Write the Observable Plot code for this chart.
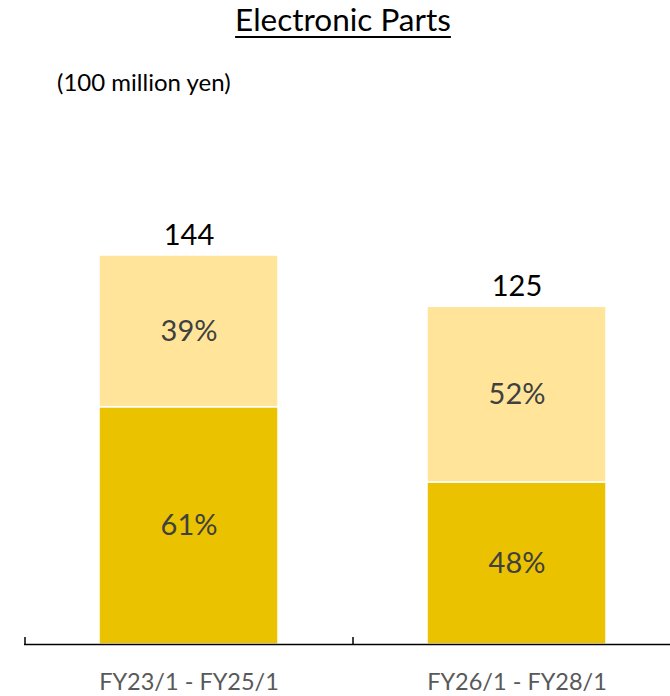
<!DOCTYPE html>
<html>
<head>
<meta charset="utf-8">
<script src="https://cdn.jsdelivr.net/npm/d3@7"></script>
<script src="https://cdn.jsdelivr.net/npm/@observablehq/plot@0.6"></script>
<style>
  body { margin: 0; background: #fff; font-family: Lato, "Open Sans", sans-serif; }
  #wrap { width: 670px; height: 696px; position: relative; overflow: hidden; }
  #title { position: absolute; left: 8px; width: 670px; top: 0px; text-align: center; font-size: 31.5px; text-decoration: underline; text-underline-offset: 5px; text-decoration-thickness: 1.5px; color: #000; }
  #subtitle { position: absolute; left: 57px; top: 67px; font-size: 24px; color: #000; }
  #chart { position: absolute; left: 0; top: 100px; }
</style>
</head>
<body>
<div id="wrap">
  <div id="title">Electronic Parts</div>
  <div id="subtitle">(100 million yen)</div>
  <div id="chart"></div>
</div>
<script>
const periods = ["FY23/1 - FY25/1", "FY26/1 - FY28/1"];
const totals = [144, 125];
const lowerPct = [61, 48];
const upperPct = [39, 52];
const segments = ["lower", "upper"];
const segmentColors = ["#EAC200", "#FFE499"];

const rows = [];
periods.forEach((p, i) => {
  rows.push({period: p, segment: "lower", value: totals[i] * lowerPct[i] / 100, pct: lowerPct[i]});
  rows.push({period: p, segment: "upper", value: totals[i] * upperPct[i] / 100, pct: upperPct[i]});
});
const totalRows = periods.map((p, i) => ({period: p, total: totals[i]}));

const W = 670, H = 596, mL = 24, mR = -10, mT = 155, mB = 52;
const step = (W - mL - mR) / periods.length;
const pxPerUnit = (H - mT - mB) / 144;

const chart = Plot.plot({
  width: W,
  height: H,
  marginLeft: mL,
  marginRight: mR,
  marginTop: mT,
  marginBottom: mB,
  style: {fontFamily: "Lato, 'Open Sans', sans-serif", background: "transparent", overflow: "visible"},
  x: {domain: periods, paddingInner: 0.455, paddingOuter: 0.2275, label: null},
  y: {domain: [0, 144], axis: null},
  color: {domain: segments, range: segmentColors},
  marks: [
    Plot.barY(rows, Plot.stackY({x: "period", y: "value", z: "segment", fill: "segment", stroke: "white", strokeWidth: 1.5, order: segments})),
    Plot.text(rows, Plot.stackY({x: "period", y: "value", z: "segment", text: d => d.pct + "%", order: segments, fill: "#404040", fontSize: 29})),
    Plot.text(totalRows, {x: "period", y: "total", text: d => String(d.total), dy: -20, fill: "#000", fontSize: 29}),
    Plot.ruleY([0], {stroke: "#000", strokeWidth: 1.5}),
    Plot.ruleX(periods, {x: d => d, y1: 0, y2: 7 / pxPerUnit, dx: -step / 2, stroke: "#000", strokeWidth: 1.5}),
    Plot.axisX({tickSize: 0, tickPadding: 29, fontSize: 23.5, color: "#595959", label: null})
  ]
});
document.getElementById("chart").appendChild(chart);
</script>
</body>
</html>
